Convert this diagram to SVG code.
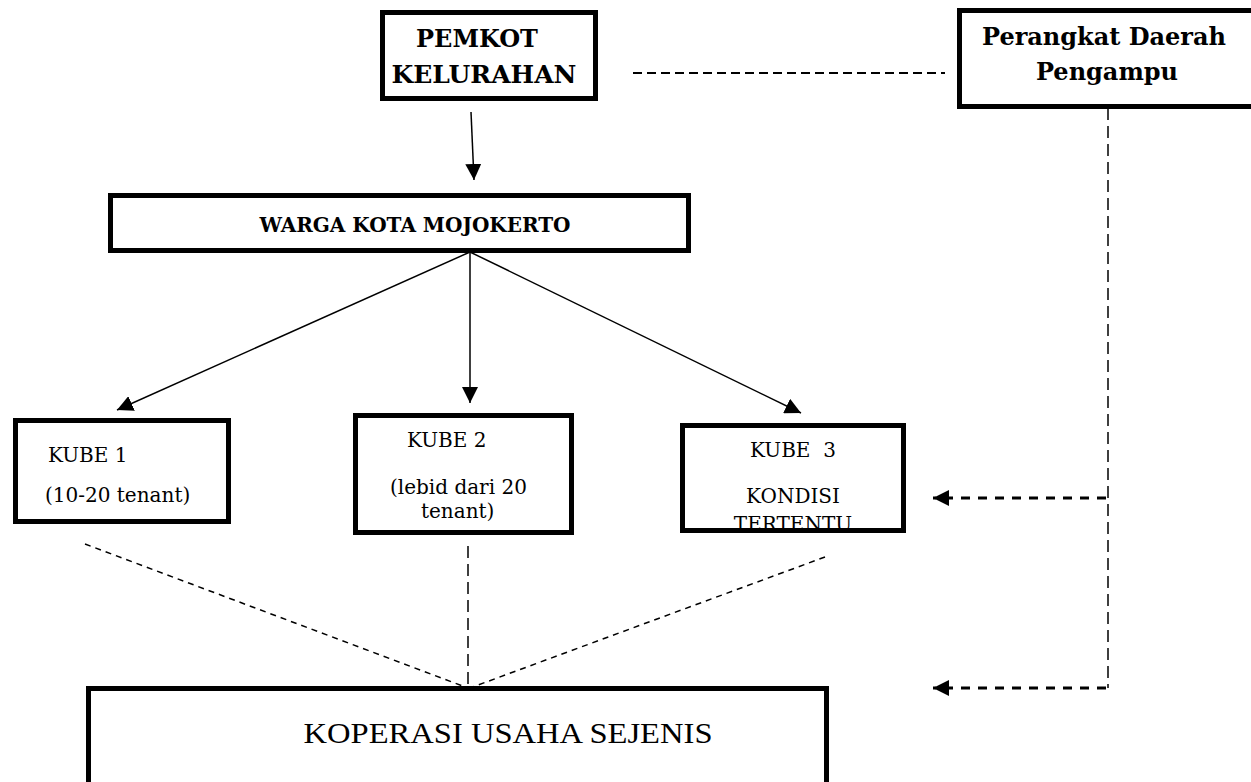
<svg xmlns="http://www.w3.org/2000/svg" width="1251" height="782" viewBox="0 0 1251 782">
<style>
.box{fill:#fff;stroke:#000;stroke-width:5}
.bt{font-family:"DejaVu Serif","Liberation Serif",serif;font-weight:bold;fill:#000}
.rt{font-family:"DejaVu Serif","Liberation Serif",serif;font-size:20px;fill:#000;white-space:pre}
.solid{stroke:#000;stroke-width:1.5;fill:none}
.thin{stroke:#000;stroke-width:1.5;fill:none;stroke-dasharray:6 5}
.thick{stroke:#000;stroke-width:3;fill:none;stroke-dasharray:9 8}
.long{stroke:#000;stroke-width:1.5;fill:none;stroke-dasharray:12 6}
</style>
<defs>
<marker id="ah" viewBox="0 0 10 10" refX="10" refY="5" markerWidth="16" markerHeight="16" markerUnits="userSpaceOnUse" orient="auto">
<path d="M0,0 L10,5 L0,10 z" fill="#000"/>
</marker>
<marker id="ah2" viewBox="0 0 10 10" refX="10" refY="5" markerWidth="16" markerHeight="16" markerUnits="userSpaceOnUse" orient="auto">
<path d="M0,0 L10,5 L0,10 z" fill="#000"/>
</marker>
<clipPath id="k3clip"><rect x="683" y="425" width="220" height="103"/></clipPath>
</defs>
<rect width="1251" height="782" fill="#fff"/>
<g id="connectors">
<line class="solid" x1="471" y1="112" x2="474" y2="180" marker-end="url(#ah)"/>
<line class="solid" x1="470" y1="252" x2="117" y2="410" marker-end="url(#ah)"/>
<line class="solid" x1="470" y1="252" x2="470" y2="403" marker-end="url(#ah)"/>
<line class="solid" x1="470" y1="252" x2="801" y2="413" marker-end="url(#ah)"/>
<line x1="633" y1="73" x2="945" y2="73" stroke="#000" stroke-width="2" stroke-dasharray="9 5"/>
<line class="long" x1="1108" y1="108" x2="1108" y2="688"/>
<line class="thick" x1="1106" y1="498" x2="933" y2="498" marker-end="url(#ah2)"/>
<line class="thick" x1="1106" y1="688" x2="933" y2="688" marker-end="url(#ah2)"/>
<line class="thin" x1="85" y1="544" x2="468" y2="688"/>
<line class="long" x1="468" y1="546" x2="468" y2="690" stroke-width="1"/>
<line class="thin" x1="825" y1="557" x2="470" y2="688"/>
</g>
<g id="pemkot">
<rect class="box" x="382.5" y="12.5" width="213" height="86"/>
<text class="bt" x="477" y="47" font-size="24" text-anchor="middle">PEMKOT</text>
<text class="bt" x="484" y="83" font-size="25" text-anchor="middle">KELURAHAN</text>
</g>
<g id="perangkat">
<rect class="box" x="959.5" y="10.5" width="300" height="96"/>
<text class="bt" x="1104" y="45" font-size="24" text-anchor="middle">Perangkat Daerah</text>
<text class="bt" x="1107" y="80" font-size="24" text-anchor="middle">Pengampu</text>
</g>
<g id="warga">
<rect class="box" x="110.5" y="195.5" width="578" height="55"/>
<text class="bt" x="415" y="232" font-size="20" text-anchor="middle">WARGA KOTA MOJOKERTO</text>
</g>
<g id="kube1">
<rect class="box" x="15.5" y="420.5" width="213" height="101"/>
<text class="rt" x="48" y="462">KUBE 1</text>
<text class="rt" x="45" y="502">(10-20 tenant)</text>
</g>
<g id="kube2">
<rect class="box" x="355.5" y="415.5" width="216" height="117"/>
<text class="rt" x="407" y="447">KUBE 2</text>
<text class="rt" x="390" y="494">(lebid dari 20</text>
<text class="rt" x="421" y="518">tenant)</text>
</g>
<g id="kube3">
<rect class="box" x="682.5" y="425.5" width="221" height="105"/>
<text class="rt" x="793" y="457" text-anchor="middle" xml:space="preserve">KUBE  3</text>
<text class="rt" x="793" y="503" text-anchor="middle">KONDISI</text>
<text class="rt" x="793" y="531" text-anchor="middle" clip-path="url(#k3clip)">TERTENTU</text>
</g>
<g id="koperasi">
<rect class="box" x="88.5" y="688.5" width="738" height="120"/>
<text x="508" y="743" font-family="'Liberation Serif',serif" font-size="30" text-anchor="middle" textLength="409" lengthAdjust="spacingAndGlyphs">KOPERASI USAHA SEJENIS</text>
</g>
</svg>
